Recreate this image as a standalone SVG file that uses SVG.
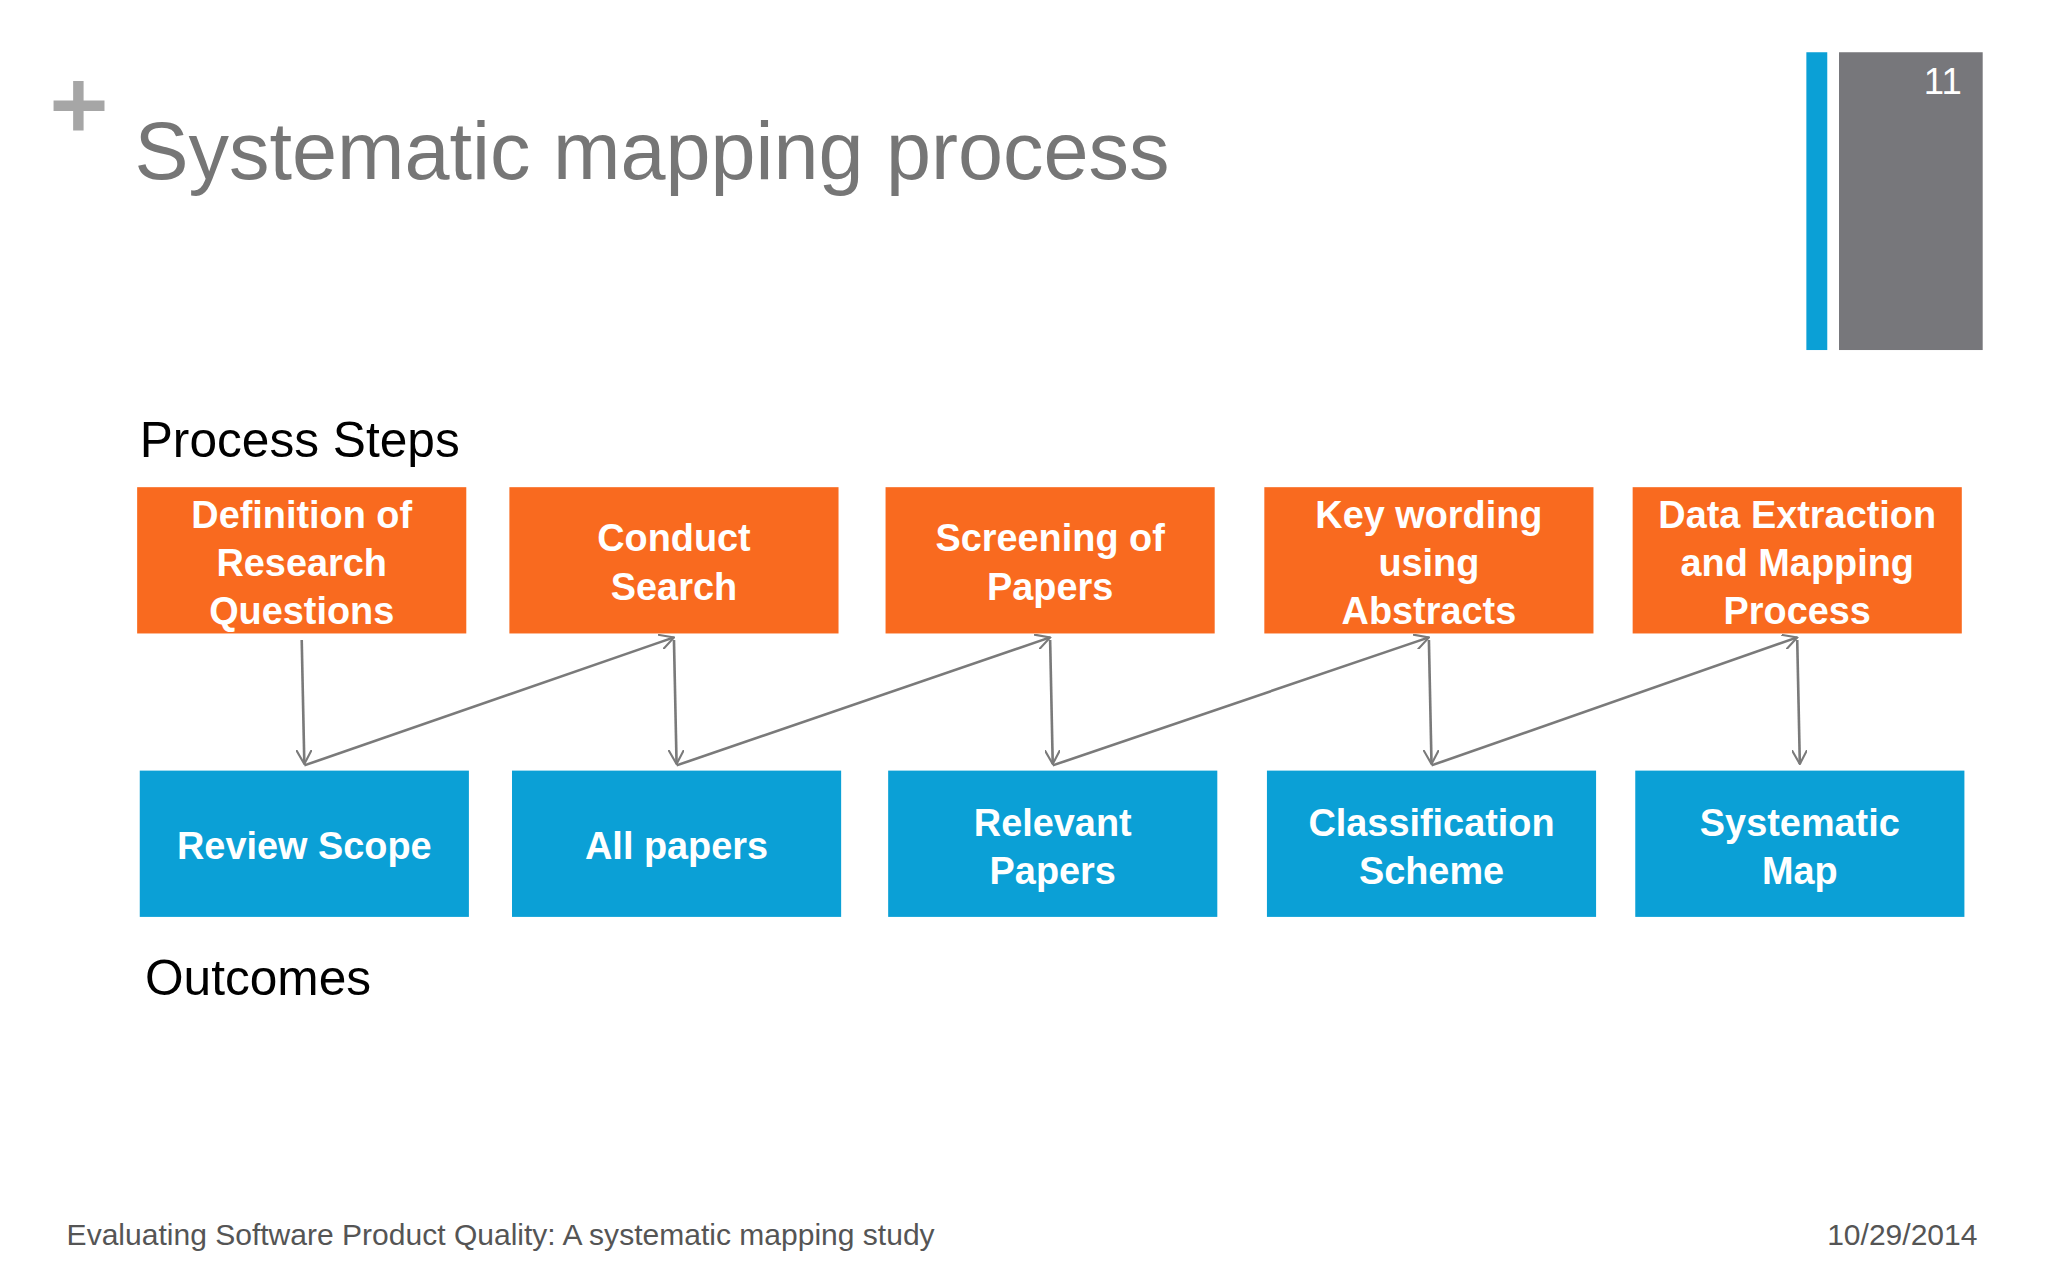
<svg xmlns="http://www.w3.org/2000/svg" width="2048" height="1280" viewBox="0 0 2048 1280">
<defs>
<style>
.o{fill:#f96a1f}.b{fill:#0ba0d6}
.t{font-family:"Liberation Sans",Arial,sans-serif;font-weight:bold;font-size:29px;fill:#fff;text-anchor:middle}
.c{stroke:#7a7a7a;stroke-width:2;fill:none}
</style>
<marker id="a" viewBox="0 0 12 12" refX="11" refY="6" markerWidth="12" markerHeight="12" markerUnits="userSpaceOnUse" orient="auto"><path d="M0,0 L11,6 L0,12" fill="none" stroke="#7a7a7a" stroke-width="1.6"/></marker>
</defs>
<rect width="2048" height="1280" fill="#fff"/>
<g transform="scale(1.30612)">
<g id="header">
<path d="M60,62 v38 M41,81 h39" stroke="#a6a6a6" stroke-width="8"/>
<text x="103" y="137" font-family="Liberation Sans,Arial,sans-serif" font-size="62" fill="#767676">Systematic mapping process</text>
<rect x="1383" y="40" width="16" height="228" fill="#0ba0d6"/>
<rect x="1408" y="40" width="110" height="228" fill="#77777b"/>
<text x="1502" y="72" font-family="Liberation Sans,Arial,sans-serif" font-size="28" fill="#fff" text-anchor="end">11</text>
<text x="107" y="350" font-family="Liberation Sans,Arial,sans-serif" font-size="38" fill="#000">Process Steps</text>
<text x="111" y="762" font-family="Liberation Sans,Arial,sans-serif" font-size="38" fill="#000">Outcomes</text>
<text x="51" y="953" font-family="Liberation Sans,Arial,sans-serif" font-size="23" fill="#555">Evaluating Software Product Quality: A systematic mapping study</text>
<text x="1514" y="953" font-family="Liberation Sans,Arial,sans-serif" font-size="23" fill="#555" text-anchor="end">10/29/2014</text>
</g>
<g id="s1"><rect class="o" x="105" y="373" width="252" height="112"/><text class="t" x="231" y="404">Definition of</text><text class="t" x="231" y="441">Research</text><text class="t" x="231" y="478">Questions</text></g>
<g id="s2"><rect class="o" x="390" y="373" width="252" height="112"/><text class="t" x="516" y="422">Conduct</text><text class="t" x="516" y="459">Search</text></g>
<g id="s3"><rect class="o" x="678" y="373" width="252" height="112"/><text class="t" x="804" y="422">Screening of</text><text class="t" x="804" y="459">Papers</text></g>
<g id="s4"><rect class="o" x="968" y="373" width="252" height="112"/><text class="t" x="1094" y="404">Key wording</text><text class="t" x="1094" y="441">using</text><text class="t" x="1094" y="478">Abstracts</text></g>
<g id="s5"><rect class="o" x="1250" y="373" width="252" height="112"/><text class="t" x="1376" y="404">Data Extraction</text><text class="t" x="1376" y="441">and Mapping</text><text class="t" x="1376" y="478">Process</text></g>
<g id="o1"><rect class="b" x="107" y="590" width="252" height="112"/><text class="t" x="233" y="658">Review Scope</text></g>
<g id="o2"><rect class="b" x="392" y="590" width="252" height="112"/><text class="t" x="518" y="658">All papers</text></g>
<g id="o3"><rect class="b" x="680" y="590" width="252" height="112"/><text class="t" x="806" y="640">Relevant</text><text class="t" x="806" y="677">Papers</text></g>
<g id="o4"><rect class="b" x="970" y="590" width="252" height="112"/><text class="t" x="1096" y="640">Classification</text><text class="t" x="1096" y="677">Scheme</text></g>
<g id="o5"><rect class="b" x="1252" y="590" width="252" height="112"/><text class="t" x="1378" y="640">Systematic</text><text class="t" x="1378" y="677">Map</text></g>
<g id="connectors" class="c" marker-end="url(#a)">
<path d="M231,490 L233,585"/><path d="M233,586 L516,488"/>
<path d="M516,490 L518,585"/><path d="M518,586 L804,488"/>
<path d="M804,490 L806,585"/><path d="M806,586 L1094,488"/>
<path d="M1094,490 L1096,585"/><path d="M1096,586 L1376,488"/>
<path d="M1376,490 L1378,585"/>
</g>
</g>
</svg>
